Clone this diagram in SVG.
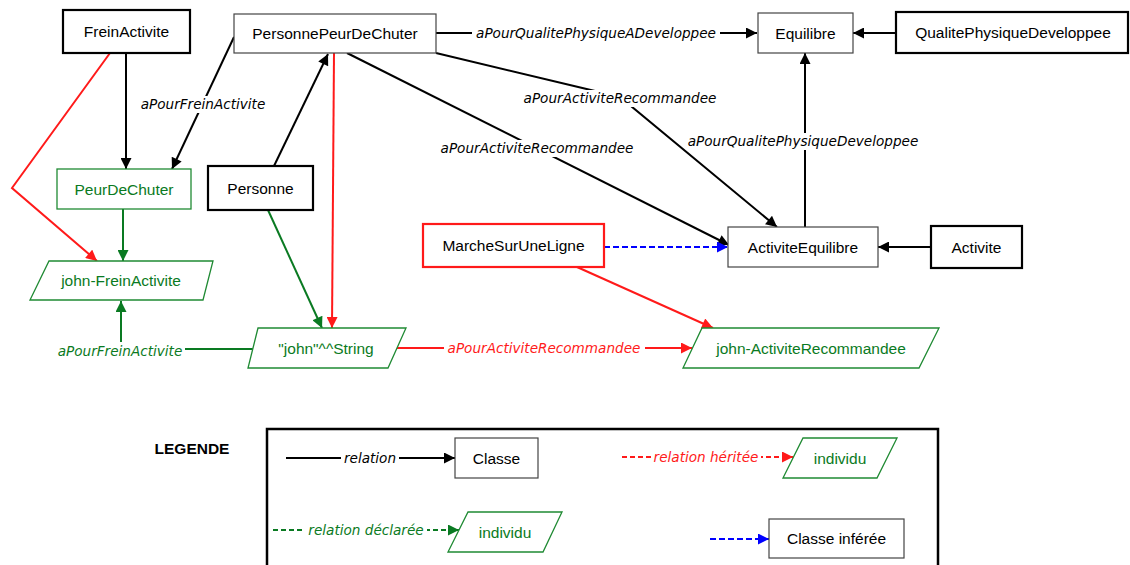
<svg xmlns="http://www.w3.org/2000/svg" width="1130" height="565" viewBox="0 0 1130 565">
<defs>
<style>
.n{font-family:"Liberation Sans",Arial,sans-serif;font-size:15.5px;text-anchor:middle}
.k{fill:#000}
.g{fill:#0a7a22}
.l{font-family:"DejaVu Sans",Verdana,sans-serif;font-style:italic;font-size:13.6px;text-anchor:middle}
.thin{fill:#fff;stroke:#444;stroke-width:1.2}
.thick{fill:#fff;stroke:#000;stroke-width:2.2}
.ind{fill:#fff;stroke:#1f8a33;stroke-width:1.3}
.eb{fill:none;stroke:#000;stroke-width:2}
.er{fill:none;stroke:#ff1a1a;stroke-width:2}
.eg{fill:none;stroke:#0a7a22;stroke-width:2}
.ebl{fill:none;stroke:#0000ff;stroke-width:2;stroke-dasharray:6 3}
.bg{fill:#fff}
</style>
<marker id="mb" viewBox="0 0 10 10" refX="10" refY="5" markerWidth="12" markerHeight="11" markerUnits="userSpaceOnUse" orient="auto"><path d="M0,0 L10,5 L0,10 z" fill="#000"/></marker>
<marker id="mr" viewBox="0 0 10 10" refX="10" refY="5" markerWidth="12" markerHeight="11" markerUnits="userSpaceOnUse" orient="auto"><path d="M0,0 L10,5 L0,10 z" fill="#ff1a1a"/></marker>
<marker id="mg" viewBox="0 0 10 10" refX="10" refY="5" markerWidth="12" markerHeight="11" markerUnits="userSpaceOnUse" orient="auto"><path d="M0,0 L10,5 L0,10 z" fill="#0a7a22"/></marker>
<marker id="mbl" viewBox="0 0 10 10" refX="10" refY="5" markerWidth="12" markerHeight="11" markerUnits="userSpaceOnUse" orient="auto"><path d="M0,0 L10,5 L0,10 z" fill="#0000ff"/></marker>
</defs>
<rect width="1130" height="565" fill="#fff"/>

<g id="connectors">
<path class="eb" d="M436,33 L757,33" marker-end="url(#mb)"/>
<path class="eb" d="M896,33 L853,33" marker-end="url(#mb)"/>
<path class="eb" d="M805,227 L805,53" marker-end="url(#mb)"/>
<path class="eb" d="M931,247 L878,247" marker-end="url(#mb)"/>
<path class="eb" d="M436,53 L620,97 L777,227" marker-end="url(#mb)"/>
<path class="eb" d="M347,53 L729,245" marker-end="url(#mb)"/>
<path class="eb" d="M126,53 L126,169" marker-end="url(#mb)"/>
<path class="eb" d="M234,37 L172,169" marker-end="url(#mb)"/>
<path class="eb" d="M274,166 L328,54" marker-end="url(#mb)"/>
<path class="er" d="M110,53 L12,188 L97,261" marker-end="url(#mr)"/>
<path class="er" d="M334,53 L332,328" marker-end="url(#mr)"/>
<path class="er" d="M397,348 L692,348" marker-end="url(#mr)"/>
<path class="er" d="M577,267 L713,328" marker-end="url(#mr)"/>
<path class="eg" d="M123,209 L123,261" marker-end="url(#mg)"/>
<path class="eg" d="M268,210 L322,328" marker-end="url(#mg)"/>
<path class="eg" d="M253,349 L121,349 L121,301" marker-end="url(#mg)"/>
<path class="ebl" d="M604,247 L728,247" marker-end="url(#mbl)"/>

<rect class="bg" x="472" y="25" width="248" height="17"/>
<text class="l k" x="596" y="38">aPourQualitePhysiqueADeveloppee</text>
<rect class="bg" x="520" y="90" width="200" height="17"/>
<text class="l k" x="620" y="103">aPourActiviteRecommandee</text>
<rect class="bg" x="437" y="140" width="200" height="17"/>
<text class="l k" x="537" y="153">aPourActiviteRecommandee</text>
<rect class="bg" x="686" y="133" width="236" height="17"/>
<text class="l k" x="803" y="146">aPourQualitePhysiqueDeveloppee</text>
<rect class="bg" x="138" y="96" width="130" height="17"/>
<text class="l k" x="203" y="109">aPourFreinActivite</text>
<rect class="bg" x="55" y="342" width="130" height="17"/>
<text class="l g" x="120" y="356">aPourFreinActivite</text>
<rect class="bg" x="444" y="340" width="201" height="17"/>
<text class="l" x="544" y="353" fill="#ff1a1a">aPourActiviteRecommandee</text>
</g>

<g id="FreinActivite"><rect class="thick" x="63" y="10" width="127" height="43"/><text class="n k" x="126.5" y="37">FreinActivite</text></g>
<g id="PersonnePeurDeChuter"><rect class="thin" x="234" y="14" width="202" height="39"/><text class="n k" x="335" y="39">PersonnePeurDeChuter</text></g>
<g id="Equilibre"><rect class="thin" x="758" y="13" width="95" height="40"/><text class="n k" x="805.5" y="38.5">Equilibre</text></g>
<g id="QualitePhysiqueDeveloppee"><rect class="thick" x="896" y="12" width="232" height="41"/><text class="n k" x="1013" y="38">QualitePhysiqueDeveloppee</text></g>
<g id="PeurDeChuter"><rect x="57" y="169" width="134" height="40" fill="#fff" stroke="#1f8a33" stroke-width="1.3"/><text class="n g" x="124" y="194.5">PeurDeChuter</text></g>
<g id="Personne"><rect class="thick" x="208" y="166" width="105" height="44"/><text class="n k" x="260.5" y="193.5">Personne</text></g>
<g id="MarcheSurUneLigne"><rect x="423" y="224" width="181" height="43" fill="#fff" stroke="#ff1a1a" stroke-width="2.2"/><text class="n k" x="513.5" y="251">MarcheSurUneLigne</text></g>
<g id="ActiviteEquilibre"><rect class="thin" x="728" y="227" width="150" height="40" fill="#fff"/><text class="n k" x="803" y="252.5">ActiviteEquilibre</text></g>
<g id="Activite"><rect class="thick" x="931" y="226" width="91" height="42"/><text class="n k" x="976.5" y="252.5">Activite</text></g>
<g id="john-FreinActivite"><polygon class="ind" points="49,261 213,261 203,300 30,300"/><text class="n g" x="121" y="286">john-FreinActivite</text></g>
<g id="john-String"><polygon class="ind" points="258,328 406,328 388,368 248,368"/><text class="n g" x="326" y="353.5">"john"^^String</text></g>
<g id="john-ActiviteRecommandee"><polygon class="ind" points="702,328 939,328 919,368 683,368"/><text class="n g" x="811" y="353.5">john-ActiviteRecommandee</text></g>

<g id="legende">
<text x="192" y="453.5" font-family="Liberation Sans,Arial,sans-serif" font-size="15.5" font-weight="bold" text-anchor="middle">LEGENDE</text>
<rect x="267" y="429" width="671" height="150" fill="none" stroke="#000" stroke-width="2.5"/>
<path class="eb" d="M286,458 L455,458" marker-end="url(#mb)"/>
<rect class="bg" x="341" y="450" width="58" height="17"/>
<text class="l k" x="370" y="463">relation</text>
<rect class="thin" x="455" y="438" width="83" height="40"/>
<text class="n k" x="496.5" y="463.5">Classe</text>
<path class="er" d="M622,457 L793,457" stroke-dasharray="5 3" marker-end="url(#mr)"/>
<rect class="bg" x="651" y="449" width="110" height="17"/>
<text class="l" x="706" y="462" fill="#ff1a1a">relation héritée</text>
<polygon class="ind" points="803,438 897,438 877,478 783,478"/>
<text class="n g" x="840" y="463.5">individu</text>
<path class="eg" d="M273,530 L459,530" stroke-dasharray="5 3" marker-end="url(#mg)"/>
<rect class="bg" x="305" y="522" width="122" height="17"/>
<text class="l g" x="366" y="535">relation déclarée</text>
<polygon class="ind" points="468,512 562,512 543,552 448,552"/>
<text class="n g" x="505" y="537.5">individu</text>
<path class="ebl" d="M710,539 L769,539" marker-end="url(#mbl)"/>
<rect class="thin" x="769" y="519" width="135" height="39"/>
<text class="n k" x="836.5" y="544">Classe inférée</text>
</g>
</svg>
